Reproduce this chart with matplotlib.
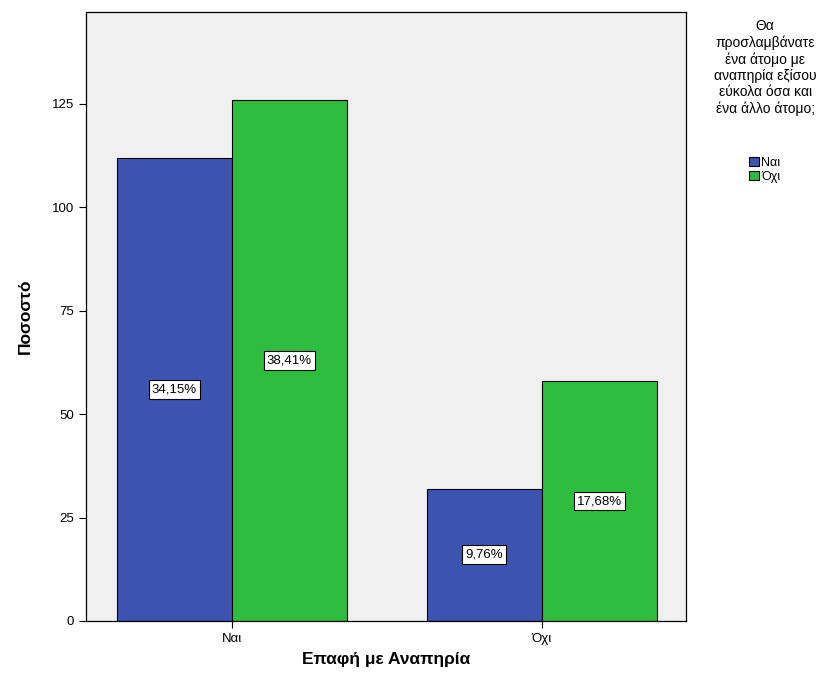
import matplotlib.pyplot as plt
import numpy as np

plt.rcParams['font.family'] = ['Liberation Sans', 'DejaVu Sans']

categories = ['Ναι', 'Όχι']
series_names = ['Ναι', 'Όχι']
counts_yes = [112, 32]
counts_no = [126, 58]
pct_yes = ['34,15%', '9,76%']
pct_no = ['38,41%', '17,68%']
legend_title = 'Θα\nπροσλαμβάνατε\nένα άτομο με\nαναπηρία εξίσου\nεύκολα όσα και\nένα άλλο άτομο;'

blue = '#3d55b0'
green = '#2ebd3e'

fig = plt.figure(figsize=(8.38, 6.89), dpi=100)
ax = fig.add_axes([0.1026, 0.0987, 0.716, 0.884])
ax.set_facecolor('#f0f0f0')

x = np.arange(len(categories))
w = 0.371
b1 = ax.bar(x - w / 2, counts_yes, width=w, color=blue, edgecolor='black', lw=0.8, label=series_names[0])
b2 = ax.bar(x + w / 2, counts_no, width=w, color=green, edgecolor='black', lw=0.8, label=series_names[1])

box = dict(boxstyle='square,pad=0.25', fc='white', ec='black', lw=0.8)
for bars, labs in [(b1, pct_yes), (b2, pct_no)]:
    for r, t in zip(bars, labs):
        ax.text(r.get_x() + r.get_width() / 2, r.get_height() / 2, t,
                ha='center', va='center', fontsize=9.5, bbox=box)

ax.set_xlim(-0.471, 1.465)
ax.set_ylim(0, 147.2)
ax.set_yticks([0, 25, 50, 75, 100, 125])
ax.set_xticks(x)
ax.set_xticklabels(categories)
ax.tick_params(labelsize=9.5, length=5, width=0.8, colors='black')
for s in ax.spines.values():
    s.set_linewidth(0.9)

ax.set_ylabel('Ποσοστό', fontsize=12.5, fontweight='bold', labelpad=14)
ax.set_xlabel('Επαφή με Αναπηρία', fontsize=12.5, fontweight='bold', labelpad=5)

# legend title as separate text, entries below
fig.text(0.913, 0.972, legend_title, ha='center', va='top', fontsize=10,
         linespacing=1.2, multialignment='center')
fig.legend(handles=[b1, b2], loc='upper left', bbox_to_anchor=(0.883, 0.785),
           fontsize=9, frameon=False,
           handlelength=0.8, handleheight=0.8, handletextpad=0.2,
           labelspacing=0.15, borderpad=0.2)

fig.savefig('out.png', dpi=100)
